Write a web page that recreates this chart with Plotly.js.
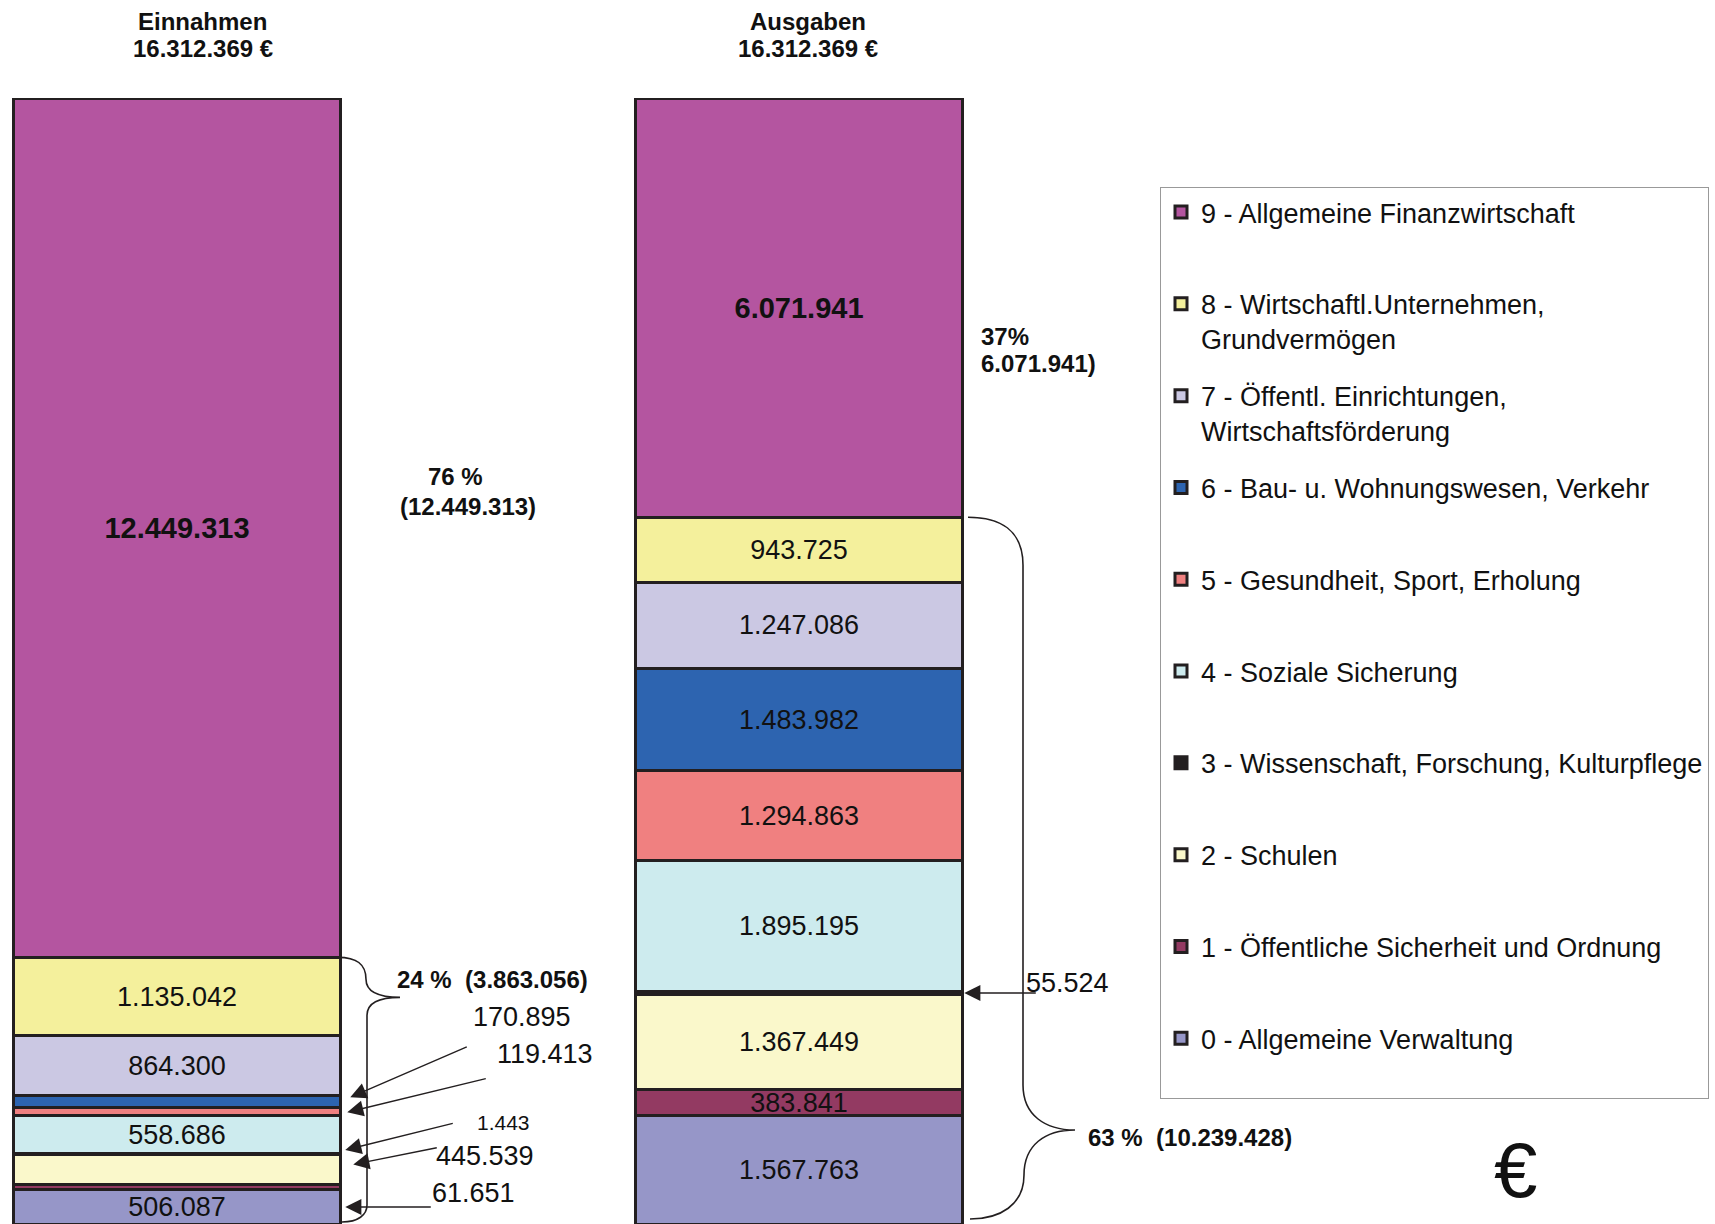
<!DOCTYPE html>
<html><head><meta charset="utf-8">
<script src="https://cdn.plot.ly/plotly-3.0.1.min.js"></script>
<style>html,body{margin:0;padding:0;background:#fff}</style>
</head><body>
<div id="chart" style="width:1715px;height:1224px"></div>
<script>
// ---------- data ----------
const columns = ['Einnahmen', 'Ausgaben'];
const columnTotals = ['16.312.369 €', '16.312.369 €'];
const categories = [
  '0 - Allgemeine Verwaltung',
  '1 - Öffentliche Sicherheit und Ordnung',
  '2 - Schulen',
  '3 - Wissenschaft, Forschung, Kulturpflege',
  '4 - Soziale Sicherung',
  '5 - Gesundheit, Sport, Erholung',
  '6 - Bau- u. Wohnungswesen, Verkehr',
  '7 - Öffentl. Einrichtungen,<br>Wirtschaftsförderung',
  '8 - Wirtschaftl.Unternehmen,<br>Grundvermögen',
  '9 - Allgemeine Finanzwirtschaft'
];
const einnahmen = [506087, 61651, 445539, 1443, 558686, 119413, 170895, 864300, 1135042, 12449313];
const ausgaben  = [1567763, 383841, 1367449, 55524, 1895195, 1294863, 1483982, 1247086, 943725, 6071941];
// which segments carry their value inside the bar (others get an arrow label)
const einnahmenInside = [true, false, false, false, true, false, false, true, true, true];
const ausgabenInside  = [true, true, true, false, true, true, true, true, true, true];
const colors = ['#9696C8', '#933A62', '#FAF8CB', '#231F20', '#CDEBEE', '#F08080', '#2D64B0', '#CBC8E3', '#F4F09C', '#B455A0'];

// ---------- helpers ----------
const FONT = 'Liberation Sans, Arial, Helvetica, sans-serif';
const W = 1715, H = 1224, T = 98;
const sum = a => a.reduce((s, v) => s + v, 0);
const fmt = v => String(Math.round(v)).replace(/\B(?=(\d{3})+(?!\d))/g, '.');
const totalE = sum(einnahmen), totalA = sum(ausgaben);
const yMax = Math.max(totalE, totalA);
const PX = x => x / W;                       // pixel x -> paper
const PY = y => 1 - (y - T) / (H - T);        // pixel y -> paper
const pyOf = v => T + (1 - v / yMax) * (H - T); // data value -> pixel y
const barW = 0.525;
const cum = a => a.map((v, i) => sum(a.slice(0, i)));
const baseE = cum(einnahmen), baseA = cum(ausgaben);

// ---------- traces ----------
const traces = categories.map((name, i) => {
  const top = i === 9;
  const tpl = top ? '<b>%{value:,.0f}</b>' : '%{value:,.0f}';
  const pad = name.includes('<br>') ? name : name + '<br> ';
  return {
    type: 'bar',
    name: pad,
    legendgroup: 'g' + i,
    legendrank: 100 - i,
    x: columns,
    y: [einnahmen[i], ausgaben[i]],
    width: barW,
    marker: {color: colors[i], line: {color: '#231F20', width: 3}},
    texttemplate: [einnahmenInside[i] ? tpl : '', ausgabenInside[i] ? tpl : ''],
    textposition: 'inside',
    insidetextanchor: 'middle',
    constraintext: 'none',
    insidetextfont: {family: FONT, size: top ? 29 : 27, color: '#111'},
    hoverinfo: 'skip'
  };
});

// ---------- annotations ----------
const ann = [];
const txt = (text, x, y, opt = {}) => ann.push(Object.assign({
  text, xref: 'paper', yref: 'paper', x: PX(x), y: PY(y), showarrow: false,
  xanchor: 'center', yanchor: 'middle', font: {family: FONT, size: 24, color: '#111'}
}, opt));

// column titles
txt('<b>' + columns[0] + '</b>', 202, 21);
txt('<b>' + columnTotals[0] + '</b>', 203, 49);
txt('<b>' + columns[1] + '</b>', 808, 21);
txt('<b>' + columnTotals[1] + '</b>', 808, 49);

// shares
const pct = v => Math.round(v * 100);
const restE = totalE - einnahmen[9];
const restA = totalA - ausgaben[9];
txt('<b>' + pct(einnahmen[9] / totalE) + ' %</b>', 455, 477);
txt('<b>(' + fmt(einnahmen[9]) + ')</b>', 468, 506);
txt('<b>' + pct(ausgaben[9] / totalE) + '%</b>', 979, 336, {xanchor: 'left'});
txt('<b>' + fmt(ausgaben[9]) + ')</b>', 979, 364, {xanchor: 'left'});
txt('<b>' + pct(restE / totalE) + ' %  (' + fmt(restE) + ')</b>', 395, 979, {xanchor: 'left'});
txt('<b>' + pct(restA / totalE) + ' %  (' + fmt(restA) + ')</b>', 1086, 1137, {xanchor: 'left'});

// arrow labels for thin segments: [column, index, xshift, yshift, ax, ay, labelDx, labelDy, fontSize]
const arrowSpecs = [
  [0, 6, 10, 4, 118, -51, 170, -80, 27],
  [0, 5, 7, -1, 140, -34, 196, -58, 27],
  [0, 3, 5, 4, 109, -27, 156, -28, 21],
  [0, 2, 13, 5, 85, -17, 130, -8, 27],
  [0, 1, 5, -20, 87, 0, 126, -14, 27],
  [1, 3, 2, 0, 73, 0, 101, -10, 27]
];
arrowSpecs.forEach(([c, i, xs, ys, ax, ay, ldx, ldy, fs]) => {
  const vals = c === 0 ? einnahmen : ausgaben;
  const base = c === 0 ? baseE : baseA;
  const mid = base[i] + vals[i] / 2;
  ann.push({
    text: '', xref: 'x', yref: 'y', x: c + barW / 2, y: mid, xshift: xs, yshift: ys,
    showarrow: true, ax: ax, ay: ay, axref: 'pixel', ayref: 'pixel',
    arrowhead: 2, arrowsize: 2.3, arrowwidth: 1.4, arrowcolor: '#231F20', standoff: 0
  });
  ann.push({
    text: fmt(vals[i]), xref: 'x', yref: 'y', x: c + barW / 2, y: mid,
    xshift: xs + ldx + 2, yshift: ys - ldy, showarrow: false,
    xanchor: 'center', yanchor: 'middle', font: {family: FONT, size: fs, color: '#111'}
  });
});

// euro sign
txt('€', 1515, 1170, {font: {family: FONT, size: 78, color: '#111'}});

// ---------- braces ----------
const eTop = pyOf(totalE - einnahmen[9]);
const aTop = pyOf(totalA - ausgaben[9]);
const path = pts => pts.map(p => typeof p === 'string' ? p : PX(p[0]) + ',' + PY(p[1])).join(' ');
const braceE = path(['M', [338, eTop], 'C', [356, eTop], [366, eTop + 6], [366, eTop + 22],
  'C', [366, eTop + 34], [378, eTop + 40], [400, eTop + 40],
  'C', [378, eTop + 40], [367, eTop + 46], [367, eTop + 58],
  'L', [367, 1205], 'C', [367, 1215], [358, 1222], [342, 1222]]);
const braceA = path(['M', [968, aTop], 'C', [1000, aTop], [1023, aTop + 13], [1023, aTop + 48],
  'L', [1023, 1085], 'C', [1023, 1115], [1045, 1130], [1075, 1130],
  'C', [1045, 1130], [1024, 1145], [1024, 1175],
  'C', [1024, 1205], [1000, 1219], [970, 1219]]);
const shapes = [braceE, braceA].map(p => ({
  type: 'path', xref: 'paper', yref: 'paper', path: p,
  line: {color: '#231F20', width: 1.6}, fillcolor: 'rgba(0,0,0,0)'
}));

// ---------- layout ----------
const xMin = -177 / 622;
const layout = {
  width: W, height: H,
  margin: {l: 0, r: 0, t: T, b: 0, pad: 0},
  paper_bgcolor: '#fff', plot_bgcolor: '#fff',
  barmode: 'stack',
  separators: ',.',
  font: {family: FONT, color: '#111'},
  xaxis: {type: 'category', range: [xMin, xMin + W / 622], visible: false, fixedrange: true},
  yaxis: {range: [0, yMax], visible: false, fixedrange: true},
  showlegend: true,
  legend: {
    x: PX(1160), y: PY(187), xanchor: 'left', yanchor: 'top',
    traceorder: 'grouped', tracegroupgap: 18.6, valign: 'top',
    font: {family: FONT, size: 27, color: '#111'},
    bgcolor: '#fff', bordercolor: '#999', borderwidth: 1, itemclick: false, itemdoubleclick: false
  },
  annotations: ann,
  shapes: shapes
};

Plotly.newPlot('chart', traces, layout, {displayModeBar: false, staticPlot: true});
</script>
</body></html>
